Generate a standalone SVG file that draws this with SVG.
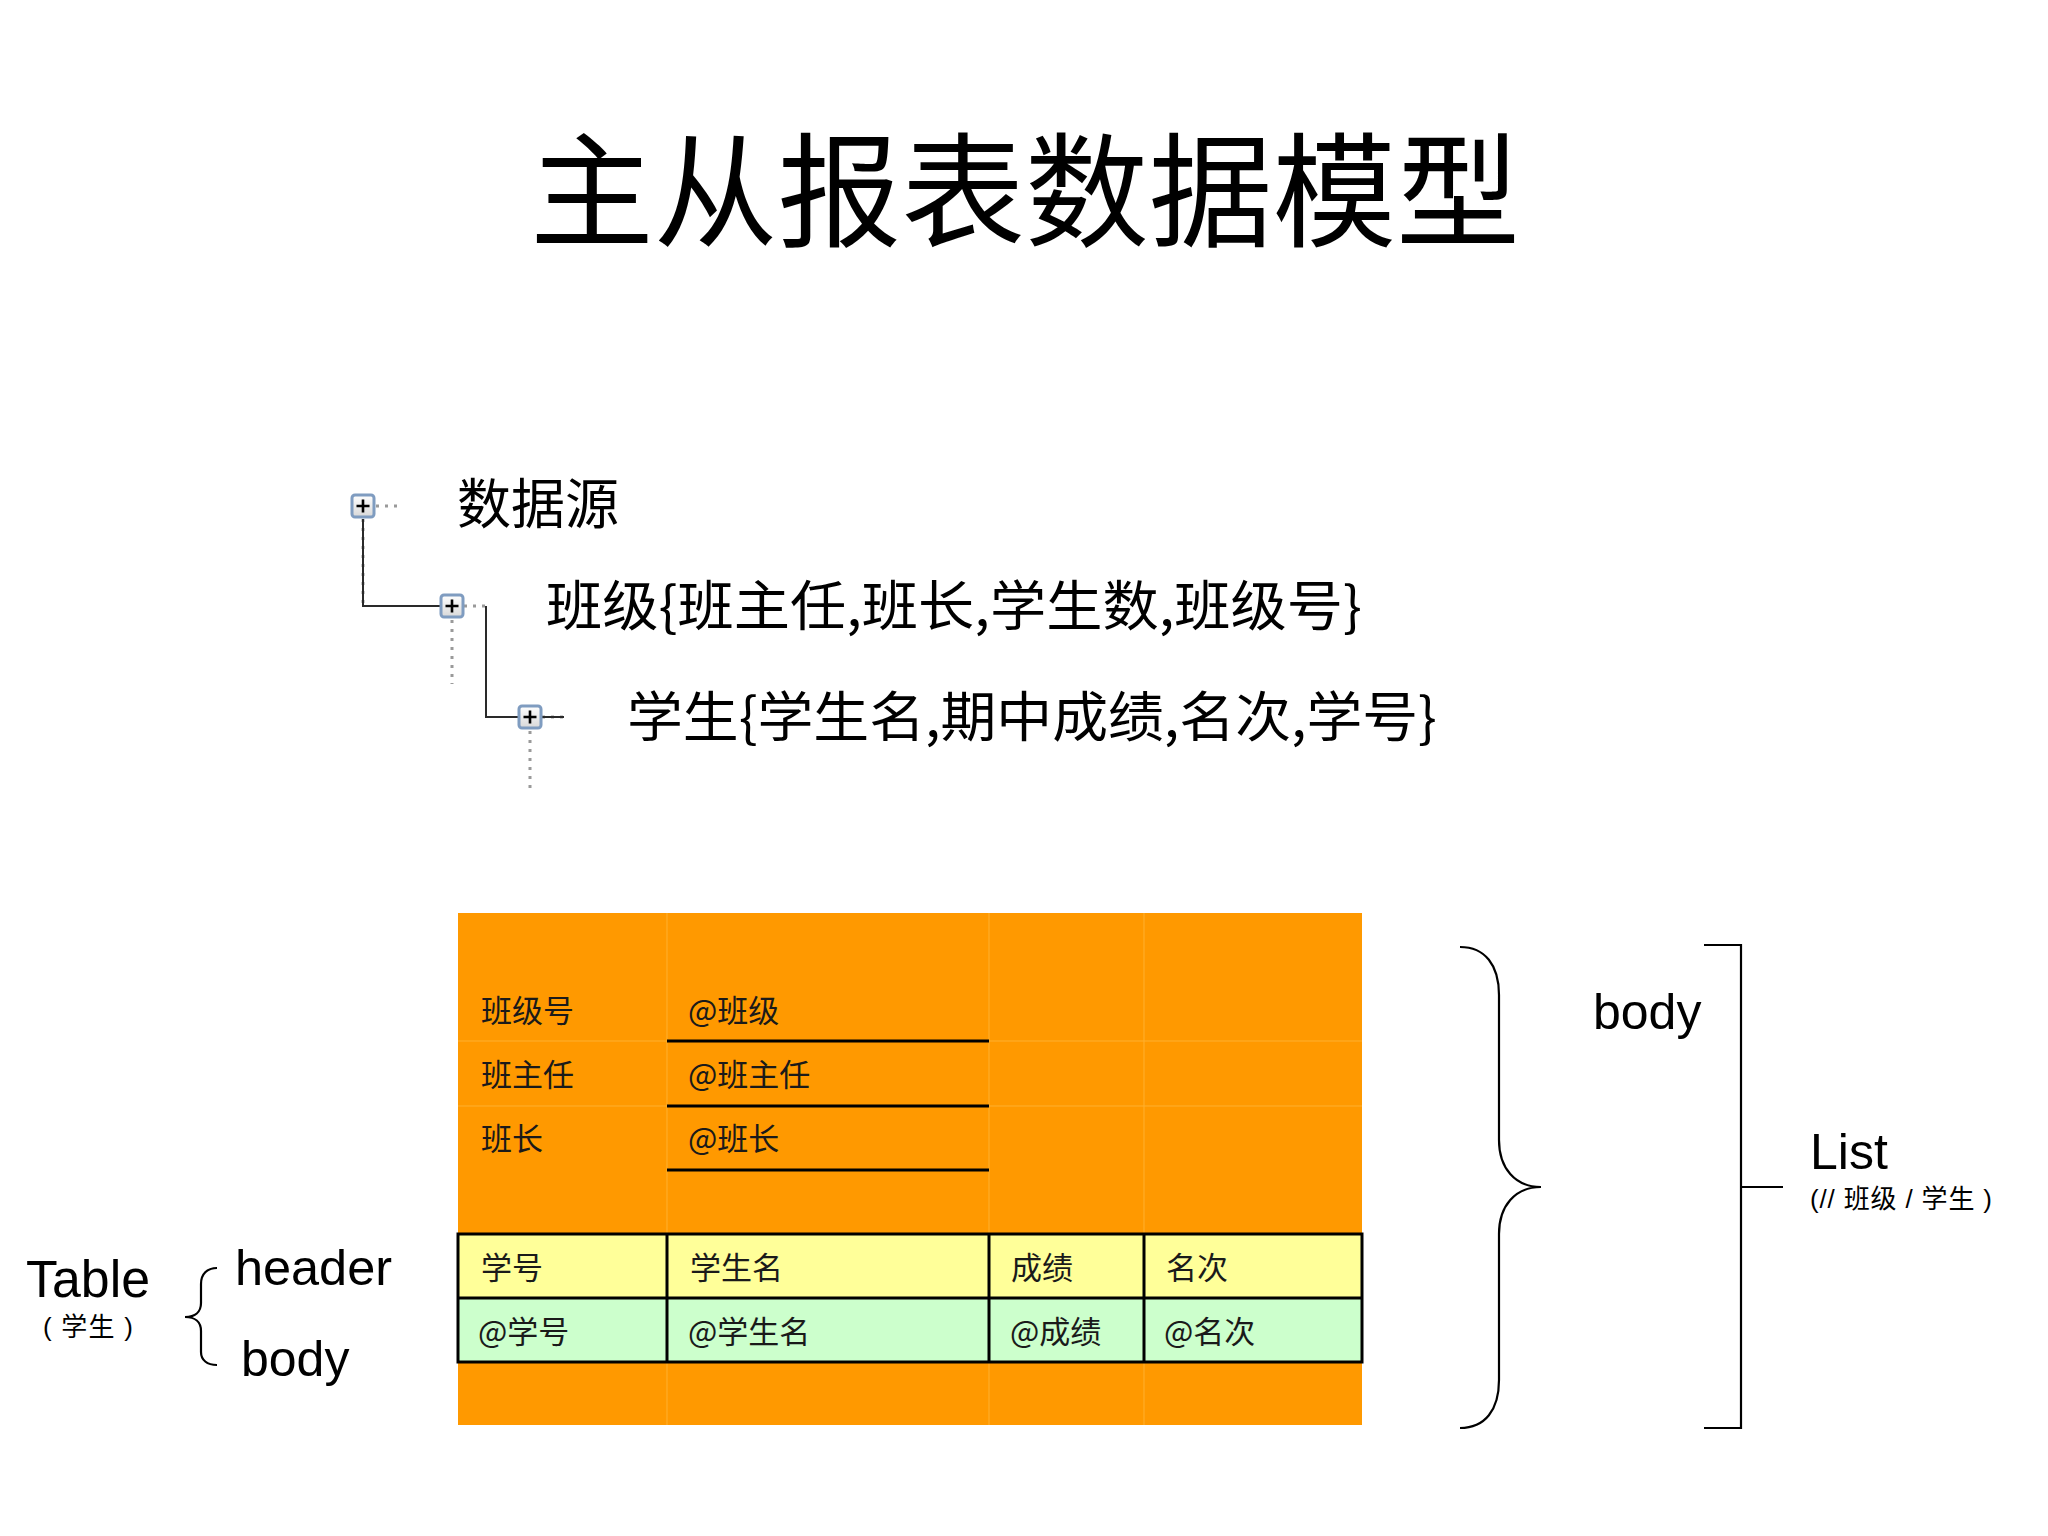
<svg xmlns="http://www.w3.org/2000/svg" width="2048" height="1536" viewBox="0 0 2048 1536">
<defs>
<linearGradient id="boxg" x1="0" y1="0" x2="0" y2="1">
<stop offset="0" stop-color="#ffffff"/>
<stop offset="1" stop-color="#d8d8d8"/>
</linearGradient>
<g id="plusbox">
<rect x="-11" y="-11" width="22" height="22" rx="3" fill="url(#boxg)" stroke="#7f9cc0" stroke-width="3"/>
<path d="M-6.5,0 H6.5 M0,-6.5 V6.5" stroke="#000" stroke-width="2.6"/>
</g>
</defs>
<style>
.cjk{font-family:"Noto Sans CJK SC","Noto Sans CJK JP",sans-serif;fill:#000}
.lat{font-family:"Liberation Sans",Arial,"Noto Sans CJK SC",sans-serif;fill:#000}
.cell{font-family:"Noto Sans CJK SC",sans-serif;font-size:31px;fill:#1a1a1a}
.solid{stroke:#2a2a2a;stroke-width:2;fill:none}
.dot{stroke:#9a9a9a;stroke-width:3;fill:none;stroke-dasharray:3,6}
.brace{stroke:#000;stroke-width:2.2;fill:none}
.uline{stroke:#000;stroke-width:3}
.faint{stroke:#ffb02e;stroke-width:1}
.grid{stroke:#000;stroke-width:3;fill:none}
</style>
<rect width="2048" height="1536" fill="#ffffff"/>

<g id="title">
<text class="cjk" x="1025" y="237" font-size="124" text-anchor="middle" textLength="990" lengthAdjust="spacingAndGlyphs">主从报表数据模型</text>
</g>

<g id="connectors">
<path class="dot" d="M363,519 V606"/>
<path class="solid" d="M363,519 V606 H441"/>
<path class="dot" d="M376,506 H400"/>
<path class="dot" d="M464,606 H486"/>
<path class="solid" d="M486,606 V717 H519"/>
<path class="dot" d="M452,620 V684"/>
<path class="dot" d="M542,717 H564"/>
<path class="solid" d="M542,717 H564"/>
<path class="dot" d="M530,731 V794"/>
</g>

<g id="node-datasource">
<use href="#plusbox" x="363" y="506"/>
<text class="cjk" x="457" y="524" font-size="54">数据源</text>
</g>
<g id="node-class">
<use href="#plusbox" x="452" y="606"/>
<text class="cjk" x="546" y="626" font-size="54" textLength="816" lengthAdjust="spacingAndGlyphs">班级{班主任,班长,学生数,班级号}</text>
</g>
<g id="node-student">
<use href="#plusbox" x="530" y="717"/>
<text class="cjk" x="627" y="737" font-size="54" textLength="810" lengthAdjust="spacingAndGlyphs">学生{学生名,期中成绩,名次,学号}</text>
</g>

<g id="report-table">
<rect x="458" y="913" width="904" height="512" fill="#ff9900"/>
<path class="faint" d="M667,913 V1425 M989,913 V1425 M1144,913 V1425 M458,1041 H1362 M458,1106 H1362"/>
<path class="uline" d="M667,1041 H989 M667,1106 H989 M667,1170 H989"/>
<text class="cell" x="481" y="1022">班级号</text>
<text class="cell" x="688" y="1022">@班级</text>
<text class="cell" x="481" y="1086">班主任</text>
<text class="cell" x="688" y="1086">@班主任</text>
<text class="cell" x="481" y="1150">班长</text>
<text class="cell" x="688" y="1150">@班长</text>
<rect x="458" y="1234" width="904" height="64" fill="#ffff99"/>
<rect x="458" y="1298" width="904" height="64" fill="#ccffcc"/>
<path class="grid" d="M458,1234 H1362 V1362 H458 Z M458,1298 H1362 M667,1234 V1362 M989,1234 V1362 M1144,1234 V1362"/>
<text class="cell" x="481" y="1279">学号</text>
<text class="cell" x="690" y="1279">学生名</text>
<text class="cell" x="1011" y="1279">成绩</text>
<text class="cell" x="1166" y="1279">名次</text>
<text class="cell" x="478" y="1343">@学号</text>
<text class="cell" x="688" y="1343">@学生名</text>
<text class="cell" x="1010" y="1343">@成绩</text>
<text class="cell" x="1164" y="1343">@名次</text>
</g>

<g id="label-table">
<text class="lat" x="26" y="1297" font-size="51" textLength="124" lengthAdjust="spacingAndGlyphs">Table</text>
<text class="lat" x="43" y="1336" font-size="26" textLength="90">( 学生 )</text>
<path class="brace" d="M217,1268 C207,1268 201,1274 201,1284 L201,1303 C201,1312 195,1317 185,1317 C195,1317 201,1322 201,1331 L201,1352 C201,1360 207,1365 217,1365"/>
<text class="lat" x="235" y="1285" font-size="50" textLength="157" lengthAdjust="spacingAndGlyphs">header</text>
<text class="lat" x="241" y="1376" font-size="50">body</text>
</g>

<g id="label-list">
<path class="brace" d="M1460,947 C1485,947 1499,965 1499,995 L1499,1140 C1499,1168 1515,1187 1541,1187 C1515,1187 1499,1206 1499,1234 L1499,1380 C1499,1410 1485,1428 1460,1428"/>
<path class="brace" stroke-width="2.5" d="M1704,945 H1741 V1428 H1704 M1741,1187 H1783"/>
<text class="lat" x="1593" y="1029" font-size="50">body</text>
<text class="lat" x="1810" y="1169" font-size="50">List</text>
<text class="lat" x="1810" y="1208" font-size="26" textLength="182">(// 班级 / 学生 )</text>
</g>
</svg>
